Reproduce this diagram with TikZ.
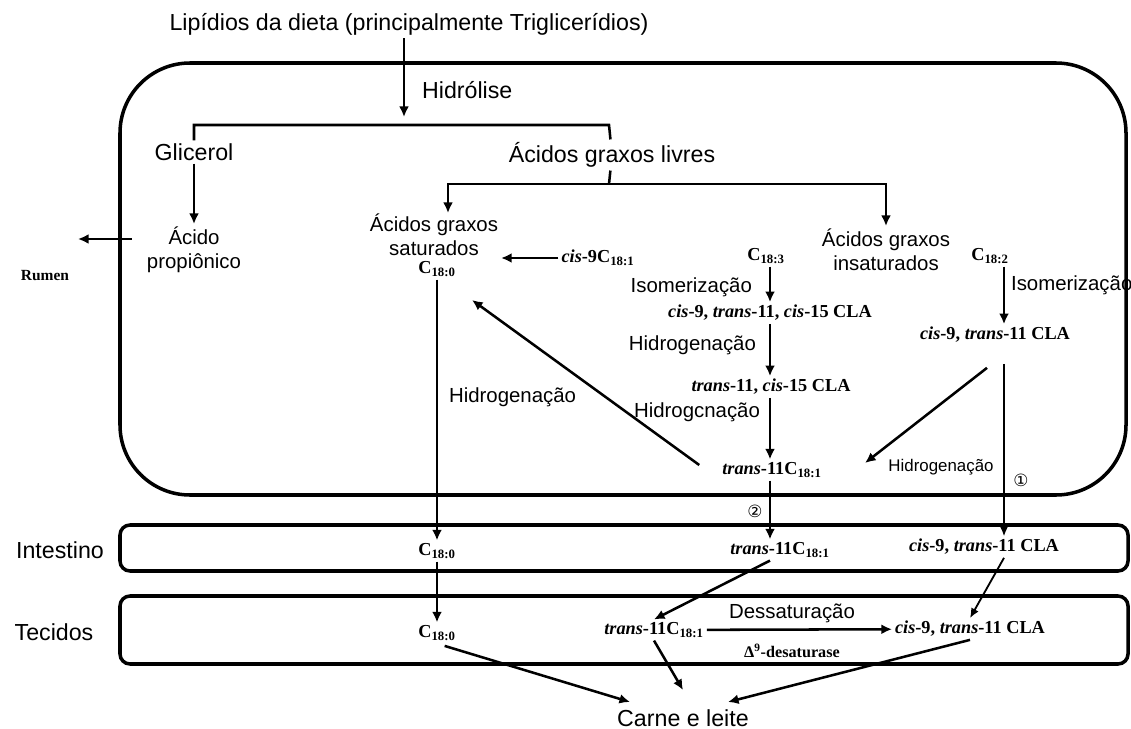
\documentclass[tikz,border=0pt]{standalone}
\usepackage{fontspec}
\setmainfont{Liberation Sans}
\newfontfamily\chemfont{Liberation Serif}
\newfontfamily\circfont{DejaVu Sans}
\usetikzlibrary{arrows.meta, calc}
\newcommand{\Csub}[1]{C\textsubscript{#1}}
\tikzstyle{txt_big} = [draw=none, font=\fontsize{16.5}{19}\selectfont, align=center, inner sep=2pt]
\tikzstyle{txt_mid} = [draw=none, font=\fontsize{14.5}{17}\selectfont, align=center, inner sep=2pt]
\tikzstyle{txt_small} = [draw=none, font=\fontsize{12}{14}\selectfont, inner sep=2pt]
\tikzstyle{chem} = [draw=none, font=\chemfont\bfseries\fontsize{13}{15}\selectfont, inner sep=2pt]
\tikzstyle{compartment} = [draw=black, line width=2.5pt]
\tikzstyle{bracket} = [line width=1.8pt]
\tikzstyle{arrow} = [line width=1.8pt,->,>={Latex[length=7.5pt,width=7pt]}]
\tikzstyle{arrow_mid} = [line width=1.3pt,->,>={Latex[length=7pt,width=6pt]}]
\tikzstyle{arrow_thin} = [line width=0.9pt,->,>={Latex[length=6.5pt,width=5.5pt]}]
\begin{document}
\begin{tikzpicture}[x=0.025cm, y=-0.025cm]
		\useasboundingbox (0,0) rectangle (1131,729);
		% compartments
		\draw [compartment, rounded corners=1.75cm] (120,63) rectangle (1126,495);
		\draw [compartment, rounded corners=0.25cm] (120,525) rectangle (1128,571);
		\draw [compartment, rounded corners=0.25cm] (120,596) rectangle (1128,664);
		\coordinate (col_m) at (770,0);
		\coordinate (col_r) at (1004,0);
		
		% rumen
		\node (lipidios) [txt_big] at (409,24) {Lipídios da dieta (principalmente Triglicerídios)};
		\node (hidrolise) [txt_big, right] at (419,90) {Hidrólise};
		\node (glicerol) [txt_big] at (194,152) {Glicerol};
		\node (livres) [txt_big] at (612,155) {Ácidos graxos livres};
		\node (propionico) [txt_mid] at (194,250) {Ácido\\propiônico};
		\node (rumen) [chem, font=\chemfont\bfseries\fontsize{11}{13}\selectfont] at (45,276) {Rumen};
		\node (sat_text) [txt_mid] at (434,235) {Ácidos graxos\\saturados};
		\node (sat_c180) [chem] at (437,269) {\Csub{18:0}};
		\node (insat_text) [txt_mid] at (886,250) {Ácidos graxos\\insaturados};
		\node (cis9c181) [chem] at (598,258) {\textit{cis}-9\Csub{18:1}};
		\node (c183) [chem] at (766,256) {\Csub{18:3}};
		\node (cla_a) [chem] at (770,313) {\textit{cis}-9, \textit{trans}-11, \textit{cis}-15 CLA};
		\node (t11c15) [chem] at (771,387) {\textit{trans}-11, \textit{cis}-15 CLA};
		\node (t11_rumen) [chem] at (772,470) {\textit{trans}-11\Csub{18:1}};
		\node (c182) [chem] at (990,256) {\Csub{18:2}};
		\node (cla_b) [chem] at (995,335) {\textit{cis}-9, \textit{trans}-11 CLA};
		
		\node (iso_a) [txt_mid, left] at (755,287) {Isomerização};
		\node (hid_a) [txt_mid, left] at (759,345) {Hidrogenação};
		\node (hid_b) [txt_mid, left] at (763,412) {Hidrogcnação};
		\node (iso_b) [txt_mid, right] at (1008,285) {Isomerização};
		\node (hid_sat) [txt_mid, right] at (446,397) {Hidrogenação};
		\node (hid_c) [txt_small] at (941,467) {Hidrogenação};
		\node (mark_one) [font=\circfont\fontsize{12}{14}\selectfont] at (1021,480) {①};
		\node (mark_two) [font=\circfont\fontsize{12}{14}\selectfont] at (755,511) {②};
		
		% intestino and tecidos
		\node (intestino) [txt_big] at (60,550) {Intestino};
		\node (tecidos) [txt_big] at (54,632) {Tecidos};
		\node (int_c180) [chem] at (437,551) {\Csub{18:0}};
		\node (int_t11) [chem] at (780,550) {\textit{trans}-11\Csub{18:1}};
		\node (int_cla) [chem] at (984,547) {\textit{cis}-9, \textit{trans}-11 CLA};
		\node (tec_c180) [chem] at (437,633) {\Csub{18:0}};
		\node (tec_t11) [chem] at (654,630) {\textit{trans}-11\Csub{18:1}};
		\node (tec_cla) [chem] at (970,629) {\textit{cis}-9, \textit{trans}-11 CLA};
		\node (dessat) [txt_mid] at (792,613) {Dessaturação};
		\node (desat_enz) [chem, font=\chemfont\bfseries\fontsize{11.5}{13}\selectfont] at (792,651) {Δ\textsuperscript{9}-desaturase};
		\node (carne) [txt_big] at (683,718) {Carne e leite};
		
		\coordinate (hyd_end) at (404,117);
		\coordinate (split_r) at (609,125);
		\coordinate (split2) at (609,184);
		\coordinate (sat_drop) at (448,213);
		\coordinate (rumen_out) at (78,239);
		\coordinate (sat_in) at (472,300);
		\coordinate (t11_in) at (865,463);
		\coordinate (carne_l) at (630,702);
		\coordinate (carne_m) at (683,690);
		\coordinate (carne_r) at (728,702);
		
		\draw [arrow] (lipidios.south -| hyd_end) -- (hyd_end);
		\draw [bracket] (glicerol) |- (split_r) -- (livres);
		\draw [arrow] (glicerol) -- (propionico);
		\draw [arrow, shorten <=0.3cm] (propionico.west |- rumen_out) -- (rumen_out);
		\draw [bracket] (livres) -- (split2);
		\draw [arrow] (split2) -| (sat_drop);
		\draw [arrow] (split2) -| (insat_text);
		\draw [arrow] (cis9c181) -- (sat_text.east |- cis9c181);
		\draw [arrow] (col_m |- c183.south) -- (col_m |- cla_a.north);
		\draw [arrow] (col_m |- cla_a.south) -- (col_m |- t11c15.north);
		\draw [arrow] (col_m |- t11c15.south) -- (col_m |- t11_rumen.north);
		\draw [arrow] ($(t11_rumen.west)+(-20,-5)$) -- (sat_in);
		\draw [arrow] (col_r |- c182.south) -- (col_r |- cla_b.north);
		\draw [arrow] ($(cla_b.south)+(-8,22)$) -- (t11_in);
		\draw [arrow_thin, shorten <=0.45cm] (col_r |- cla_b.south) -- (col_r |- int_cla.north);
		\draw [arrow] (sat_c180) -- (int_c180);
		\draw [arrow] (col_m |- t11_rumen.south) -- (col_m |- int_t11.north);
		
		\draw [arrow] (int_c180) -- (tec_c180);
		\draw [arrow] (col_m |- int_t11.south) -- (tec_t11.north);
		\draw [arrow_mid] (col_r |- int_cla.south) -- (tec_cla.north);
		\draw [arrow] (tec_t11) -- (tec_cla);
		\draw [arrow, shorten <=0.2cm] (tec_c180.south) -- (carne_l);
		\draw [arrow] (tec_t11.south) -- (carne_m);
		\draw [arrow] (tec_cla.south) -- (carne_r);
\end{tikzpicture}
\end{document}
